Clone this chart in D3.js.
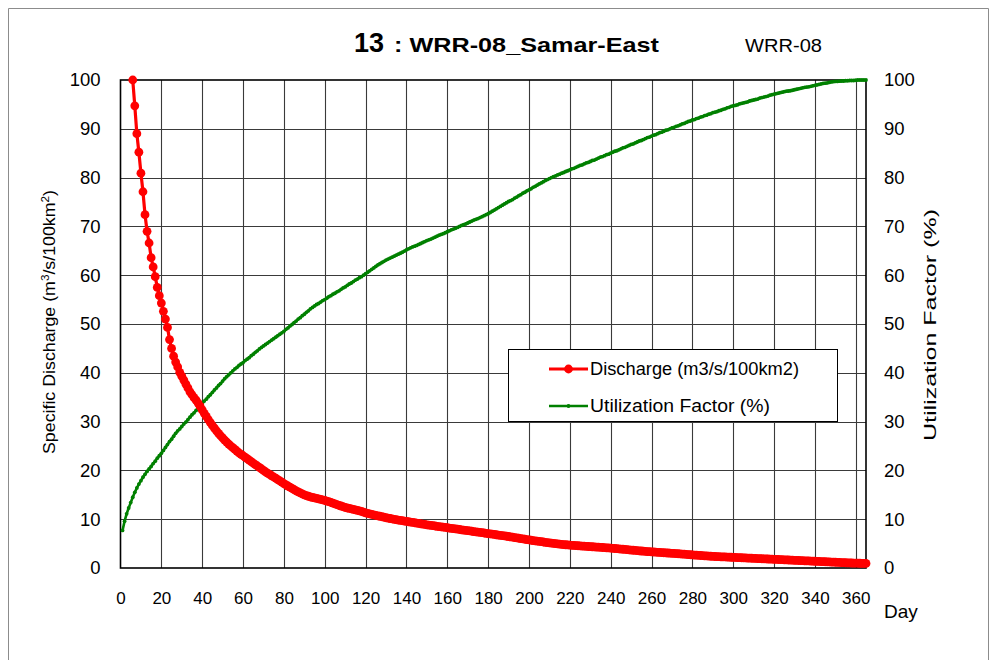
<!DOCTYPE html>
<html>
<head>
<meta charset="utf-8">
<script src="https://cdn.jsdelivr.net/npm/d3@7"></script>
<style>
  html, body { margin: 0; padding: 0; background: #fff; }
  svg { display: block; font-family: "Liberation Sans", Arial, sans-serif; }
</style>
</head>
<body>
<svg id="chart" width="1000" height="660"></svg>
<script>
// Flow duration for basin 13 (WRR-08 Samar-East): one value per day of the year, day 1..365
const dischargeValues = [
  190, 150, 128, 114, 106, 100, 94.7, 89.0, 85.2, 80.9,
  77.1, 72.4, 69.0, 66.6, 63.6, 61.7, 59.7, 57.5, 55.8, 54.3,
  52.6, 51.0, 49.3, 46.8, 45.0, 43.4, 42.2, 41.2, 40.1, 39.3,
  38.5, 37.7, 36.9, 36.1, 35.5, 34.9, 34.4, 33.8, 33.1, 32.4,
  31.7, 31.05, 30.4, 29.8, 29.2, 28.65, 28.1, 27.6, 27.1, 26.65,
  26.2, 25.8, 25.4, 25.0, 24.65, 24.3, 23.95, 23.6, 23.3, 23.0,
  22.7, 22.4, 22.1, 21.8, 21.5, 21.2, 20.9, 20.6, 20.3, 20.0,
  19.7, 19.45, 19.2, 18.9, 18.65, 18.4, 18.1, 17.85, 17.6, 17.3,
  17.05, 16.8, 16.55, 16.3, 16.05, 15.8, 15.6, 15.4, 15.2, 15.0,
  14.85, 14.7, 14.55, 14.45, 14.35, 14.25, 14.15, 14.05, 13.95, 13.85,
  13.72, 13.59, 13.45, 13.3, 13.15, 13.0, 12.85, 12.7, 12.55, 12.4,
  12.3, 12.2, 12.1, 12.0, 11.9, 11.8, 11.7, 11.6, 11.45, 11.3,
  11.2, 11.1, 11.0, 10.9, 10.8, 10.7, 10.6, 10.5, 10.4, 10.3,
  10.22, 10.14, 10.06, 9.98, 9.9, 9.83, 9.76, 9.69, 9.62, 9.55,
  9.48, 9.41, 9.34, 9.27, 9.2, 9.13, 9.06, 8.99, 8.92, 8.85,
  8.79, 8.73, 8.67, 8.61, 8.55, 8.49, 8.43, 8.37, 8.31, 8.25,
  8.19, 8.13, 8.07, 8.01, 7.95, 7.89, 7.83, 7.77, 7.71, 7.65,
  7.59, 7.53, 7.47, 7.41, 7.35, 7.29, 7.23, 7.17, 7.11, 7.05,
  6.99, 6.93, 6.87, 6.81, 6.75, 6.69, 6.63, 6.57, 6.51, 6.45,
  6.38, 6.31, 6.24, 6.17, 6.1, 6.03, 5.96, 5.89, 5.82, 5.75,
  5.69, 5.63, 5.57, 5.51, 5.45, 5.39, 5.33, 5.27, 5.21, 5.15,
  5.1, 5.05, 5.0, 4.95, 4.9, 4.85, 4.8, 4.76, 4.72, 4.68,
  4.65, 4.62, 4.59, 4.56, 4.53, 4.5, 4.47, 4.44, 4.41, 4.38,
  4.35, 4.32, 4.29, 4.26, 4.23, 4.2, 4.17, 4.14, 4.11, 4.08,
  4.04, 4.0, 3.96, 3.92, 3.88, 3.84, 3.8, 3.76, 3.72, 3.68,
  3.64, 3.6, 3.56, 3.52, 3.48, 3.44, 3.4, 3.37, 3.34, 3.31,
  3.28, 3.25, 3.22, 3.19, 3.16, 3.13, 3.1, 3.07, 3.04, 3.01,
  2.98, 2.95, 2.92, 2.89, 2.86, 2.83, 2.8, 2.76, 2.72, 2.68,
  2.65, 2.62, 2.59, 2.56, 2.53, 2.5, 2.47, 2.44, 2.41, 2.38,
  2.36, 2.34, 2.32, 2.3, 2.28, 2.26, 2.24, 2.22, 2.2, 2.18,
  2.16, 2.14, 2.12, 2.1, 2.08, 2.06, 2.04, 2.02, 2.0, 1.98,
  1.96, 1.94, 1.92, 1.9, 1.88, 1.86, 1.84, 1.82, 1.8, 1.78,
  1.76, 1.74, 1.72, 1.7, 1.68, 1.66, 1.64, 1.62, 1.6, 1.58,
  1.56, 1.54, 1.52, 1.5, 1.48, 1.46, 1.44, 1.42, 1.4, 1.38,
  1.36, 1.34, 1.32, 1.3, 1.28, 1.26, 1.24, 1.22, 1.2, 1.18,
  1.16, 1.14, 1.12, 1.1, 1.08, 1.06, 1.04, 1.02, 1.0, 0.99,
  0.98, 0.97, 0.96, 0.95, 0.94
];

// Cumulative utilization factor (%), day 1..365
const utilizationValues = [
  7.7, 9.6, 11.1, 12.3, 13.4, 14.5, 15.5, 16.4, 17.2, 17.9,
  18.6, 19.2, 19.8, 20.3, 20.8, 21.4, 21.9, 22.5, 23.0, 23.5,
  24.1, 24.7, 25.3, 25.9, 26.4, 27.0, 27.6, 28.1, 28.5, 29.0,
  29.5, 29.9, 30.4, 30.9, 31.4, 31.8, 32.3, 32.8, 33.2, 33.7,
  34.2, 34.6, 35.1, 35.5, 36.0, 36.5, 36.9, 37.4, 37.8, 38.3,
  38.8, 39.2, 39.6, 40.0, 40.4, 40.8, 41.1, 41.5, 41.8, 42.1,
  42.5, 42.8, 43.1, 43.5, 43.8, 44.2, 44.5, 44.9, 45.2, 45.5,
  45.8, 46.1, 46.4, 46.7, 47.0, 47.3, 47.6, 47.9, 48.2, 48.5,
  48.9, 49.2, 49.6, 49.9, 50.3, 50.6, 51.0, 51.3, 51.7, 52.0,
  52.4, 52.7, 53.1, 53.4, 53.7, 54.0, 54.2, 54.5, 54.8, 55.0,
  55.3, 55.6, 55.8, 56.1, 56.3, 56.6, 56.8, 57.1, 57.4, 57.6,
  57.9, 58.2, 58.4, 58.7, 59.0, 59.2, 59.5, 59.7, 60.0, 60.3,
  60.6, 60.9, 61.2, 61.5, 61.8, 62.1, 62.35, 62.6, 62.85, 63.1,
  63.3, 63.5, 63.7, 63.9, 64.1, 64.3, 64.5, 64.7, 64.95, 65.2,
  65.4, 65.6, 65.8, 65.95, 66.1, 66.3, 66.5, 66.7, 66.9, 67.1,
  67.25, 67.4, 67.6, 67.8, 68.0, 68.2, 68.35, 68.5, 68.7, 68.9,
  69.1, 69.3, 69.45, 69.6, 69.8, 70.0, 70.2, 70.35, 70.5, 70.7,
  70.9, 71.1, 71.3, 71.45, 71.6, 71.8, 72.0, 72.2, 72.4, 72.6,
  72.85, 73.1, 73.35, 73.6, 73.85, 74.1, 74.35, 74.6, 74.85, 75.1,
  75.3, 75.5, 75.8, 76.0, 76.3, 76.5, 76.8, 77.0, 77.3, 77.5,
  77.7, 78.0, 78.2, 78.45, 78.7, 78.9, 79.15, 79.4, 79.6, 79.8,
  80.0, 80.2, 80.35, 80.55, 80.7, 80.9, 81.05, 81.25, 81.4, 81.6,
  81.8, 81.9, 82.1, 82.3, 82.5, 82.6, 82.8, 83.0, 83.1, 83.3,
  83.5, 83.6, 83.8, 84.0, 84.2, 84.3, 84.5, 84.7, 84.8, 85.0,
  85.2, 85.4, 85.5, 85.7, 85.9, 86.1, 86.2, 86.4, 86.6, 86.8,
  86.9, 87.1, 87.3, 87.5, 87.6, 87.8, 88.0, 88.2, 88.3, 88.5,
  88.7, 88.8, 89.0, 89.2, 89.3, 89.5, 89.7, 89.8, 90.0, 90.2,
  90.3, 90.5, 90.6, 90.8, 91.0, 91.1, 91.3, 91.5, 91.6, 91.8,
  91.9, 92.1, 92.2, 92.4, 92.5, 92.7, 92.8, 93.0, 93.1, 93.3,
  93.4, 93.5, 93.7, 93.8, 94.0, 94.1, 94.3, 94.4, 94.6, 94.7,
  94.8, 94.9, 95.1, 95.2, 95.3, 95.4, 95.5, 95.7, 95.8, 95.9,
  96.0, 96.1, 96.3, 96.4, 96.5, 96.6, 96.7, 96.9, 97.0, 97.1,
  97.2, 97.3, 97.4, 97.5, 97.6, 97.7, 97.75, 97.8, 97.9, 98.0,
  98.1, 98.2, 98.3, 98.4, 98.5, 98.55, 98.6, 98.7, 98.8, 98.9,
  99.0, 99.1, 99.2, 99.3, 99.35, 99.4, 99.5, 99.6, 99.65, 99.7,
  99.7, 99.75, 99.8, 99.8, 99.85, 99.85, 99.9, 99.9, 99.9, 99.95,
  100, 100, 100, 100, 100
];

const dayTicks = [0, 20, 40, 60, 80, 100, 120, 140, 160, 180, 200, 220, 240, 260, 280, 300, 320, 340, 360];
const valueTicks = [0, 10, 20, 30, 40, 50, 60, 70, 80, 90, 100];

const seriesNames = ["Discharge (m3/s/100km2)", "Utilization Factor (%)"];
const seriesColors = ["#ff0000", "#008000"];

const svg = d3.select("#chart");

// outer chart frame
svg.append("path")
  .attr("d", "M8.5,660 V8.5 H988.5 V660")
  .attr("fill", "none").attr("stroke", "#8c8c8c").attr("stroke-width", 1);

const plot = { left: 120.5, right: 866, top: 80, bottom: 568 };

const x = d3.scaleLinear().domain([0, 365]).range([plot.left, plot.right]);
const yL = d3.scaleLinear().domain([0, 100]).range([plot.bottom, plot.top]);
const yR = d3.scaleLinear().domain([0, 100]).range([plot.bottom, plot.top]);

const dischargeData = dischargeValues.map((v, i) => ({ day: i + 1, v }));
const utilData = utilizationValues.map((v, i) => ({ day: i + 1, v }));

// grid
const grid = svg.append("g");
grid.selectAll("line.gx").data(dayTicks.filter(d => d > 0)).join("line")
  .attr("x1", d => Math.round(x(d)) + 0.5).attr("x2", d => Math.round(x(d)) + 0.5)
  .attr("y1", plot.top).attr("y2", plot.bottom)
  .attr("stroke", "#3a3a3a").attr("stroke-width", 1.1);
grid.selectAll("line.gy").data(valueTicks.filter(d => d > 0 && d < 100)).join("line")
  .attr("x1", plot.left).attr("x2", plot.right)
  .attr("y1", d => Math.round(yL(d)) + 0.5).attr("y2", d => Math.round(yL(d)) + 0.5)
  .attr("stroke", "#3a3a3a").attr("stroke-width", 1.1);

// plot border
svg.append("rect")
  .attr("x", plot.left).attr("y", plot.top)
  .attr("width", plot.right - plot.left).attr("height", plot.bottom - plot.top)
  .attr("fill", "none").attr("stroke", "#000").attr("stroke-width", 1.6);

// axes (labels only)
const axB = svg.append("g").attr("transform", `translate(0,${plot.bottom})`)
  .call(d3.axisBottom(x).tickValues(dayTicks).tickSize(0).tickPadding(24));
const axL = svg.append("g").attr("transform", `translate(${plot.left},0)`)
  .call(d3.axisLeft(yL).tickValues(valueTicks).tickSize(0).tickPadding(20));
const axR = svg.append("g").attr("transform", `translate(${plot.right},0)`)
  .call(d3.axisRight(yR).tickValues(valueTicks).tickSize(0).tickPadding(18));
[axB, axL, axR].forEach(g => {
  g.select(".domain").remove();
  g.selectAll("text").attr("fill", "#000")
    .attr("font-family", "'Liberation Sans', Arial, sans-serif");
});
axB.selectAll("text").attr("font-size", 17);
axL.selectAll("text").attr("font-size", 18.5);
axR.selectAll("text").attr("font-size", 18.5);

// clip region for series lines
svg.append("clipPath").attr("id", "plotClip").append("rect")
  .attr("x", plot.left).attr("y", plot.top - 1)
  .attr("width", plot.right - plot.left + 1).attr("height", plot.bottom - plot.top + 2);

const line = (yScale) => d3.line().x(d => x(d.day)).y(d => yScale(d.v));

// utilization factor series (right axis)
const gU = svg.append("g");
gU.append("path").datum(utilData)
  .attr("d", line(yR)).attr("fill", "none")
  .attr("stroke", seriesColors[1]).attr("stroke-width", 2.6)
  .attr("clip-path", "url(#plotClip)");
gU.selectAll("circle").data(utilData).join("circle")
  .attr("cx", d => x(d.day)).attr("cy", d => yR(d.v)).attr("r", 1.9)
  .attr("fill", seriesColors[1]);

// discharge series (left axis)
const gD = svg.append("g");
gD.append("path").datum(dischargeData)
  .attr("d", line(yL)).attr("fill", "none")
  .attr("stroke", seriesColors[0]).attr("stroke-width", 3.2)
  .attr("clip-path", "url(#plotClip)");
gD.selectAll("circle").data(dischargeData.filter(d => d.v <= 100)).join("circle")
  .attr("cx", d => x(d.day)).attr("cy", d => yL(d.v)).attr("r", 4.4)
  .attr("fill", seriesColors[0]);

// titles
svg.append("text").attr("x", 354).attr("y", 52)
  .attr("font-weight", "bold").attr("font-size", 27).attr("fill", "#000").text("13");
svg.append("text").attr("x", 394).attr("y", 52)
  .attr("font-weight", "bold").attr("font-size", 21).attr("fill", "#000")
  .attr("textLength", 265).attr("lengthAdjust", "spacingAndGlyphs")
  .text(": WRR-08_Samar-East");

svg.append("text").attr("x", 745).attr("y", 52)
  .attr("font-size", 18).attr("fill", "#000")
  .attr("textLength", 77).attr("lengthAdjust", "spacingAndGlyphs")
  .text("WRR-08");

svg.append("text").attr("x", 884).attr("y", 618)
  .attr("font-size", 19).attr("fill", "#000").text("Day");

// left axis title with superscripts
const yt = svg.append("text")
  .attr("transform", `translate(55,322) rotate(-90)`)
  .attr("text-anchor", "middle").attr("font-size", 16).attr("fill", "#000")
  .attr("textLength", 264).attr("lengthAdjust", "spacingAndGlyphs");
yt.append("tspan").text("Specific Discharge (m");
yt.append("tspan").attr("font-size", 10.5).attr("dy", -6).text("3");
yt.append("tspan").attr("dy", 6).text("/s/100km");
yt.append("tspan").attr("font-size", 10.5).attr("dy", -6).text("2");
yt.append("tspan").attr("dy", 6).text(")");

svg.append("text")
  .attr("transform", `translate(936,325) rotate(-90)`)
  .attr("text-anchor", "middle").attr("font-size", 16).attr("fill", "#000")
  .attr("textLength", 232).attr("lengthAdjust", "spacingAndGlyphs")
  .text("Utilization Factor (%)");

// legend
const lg = svg.append("g");
lg.append("rect").attr("x", 508.5).attr("y", 349.5).attr("width", 329).attr("height", 72)
  .attr("fill", "#fff").attr("stroke", "#000").attr("stroke-width", 1);
const legendRows = [
  { name: seriesNames[0], color: seriesColors[0], w: 3.2, r: 4.4, y: 369, len: 209 },
  { name: seriesNames[1], color: seriesColors[1], w: 2.6, r: 1.9, y: 406, len: 180 }
];
legendRows.forEach(row => {
  lg.append("line").attr("x1", 549).attr("x2", 588).attr("y1", row.y).attr("y2", row.y)
    .attr("stroke", row.color).attr("stroke-width", row.w);
  lg.append("circle").attr("cx", 568.5).attr("cy", row.y).attr("r", row.r).attr("fill", row.color);
  lg.append("text").attr("x", 590).attr("y", row.y + 6).attr("font-size", 17.5)
    .attr("fill", "#000").attr("textLength", row.len).attr("lengthAdjust", "spacingAndGlyphs")
    .text(row.name);
});
</script>
</body>
</html>
